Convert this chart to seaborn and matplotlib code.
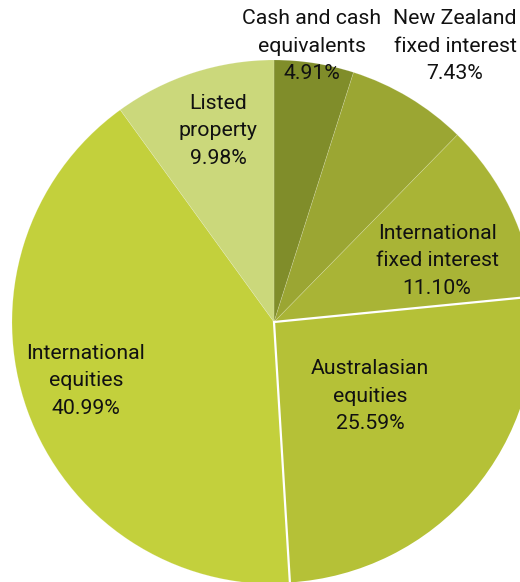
import matplotlib
matplotlib.use("Agg")
import matplotlib.pyplot as plt
import seaborn as sns

categories = ["Cash and cash\nequivalents", "New Zealand\nfixed interest", "International\nfixed interest",
              "Australasian\nequities", "International\nequities", "Listed\nproperty"]
values = [4.91, 7.43, 11.10, 25.59, 40.99, 9.98]
colors = ["#808d2a", "#9ba633", "#a9b436", "#b5c137", "#c3d03c", "#cbd87b"]
# label centres in pixel coords (x, y from top)
label_pos = [(312, 46), (455, 46), (437, 261), (370, 396), (86, 381), (218, 131)]

sns.set_theme(style="white")
plt.rcParams["font.family"] = ["Roboto", "DejaVu Sans"]

W, H = 520, 582
fig = plt.figure(figsize=(W / 100, H / 100), dpi=100)
ax = fig.add_axes([0, 0, 1, 1])
ax.set_xlim(0, W)
ax.set_ylim(0, H)
ax.set_aspect("equal")
ax.axis("off")

cx, cy, r = 274, H - 322, 262
wedges, _ = ax.pie(values, colors=colors, startangle=90, counterclock=False,
                   center=(cx, cy), radius=r,
                   wedgeprops=dict(edgecolor=(1, 1, 1, 0.2), linewidth=0.5))
ax.set_xlim(0, W)
ax.set_ylim(0, H)
wedges[3].set_edgecolor("white")
wedges[3].set_linewidth(1.6)
wedges[3].set_zorder(3)

for cat, v, (x, y) in zip(categories, values, label_pos):
    ax.text(x, H - y, f"{cat}\n{v:.2f}%", ha="center", va="center",
            fontsize=15.3, color="#111111", linespacing=1.57, zorder=5)

fig.savefig("out.png", dpi=100)
